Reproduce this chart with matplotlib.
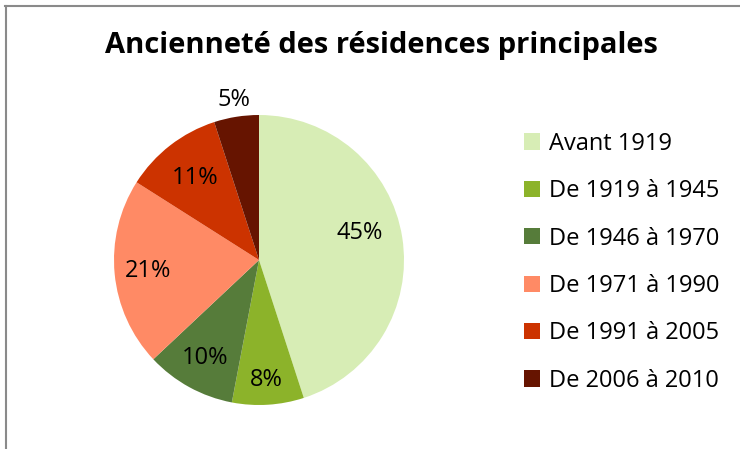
import numpy as np
import matplotlib.pyplot as plt
from matplotlib.lines import Line2D

# données
periodes = ["Avant 1919", "De 1919 à 1945", "De 1946 à 1970",
            "De 1971 à 1990", "De 1991 à 2005", "De 2006 à 2010"]
parts = [45, 8, 10, 21, 11, 5]
couleurs = ["#D7EDB5", "#8CB32A", "#567C3A", "#FF8A65", "#CC3300", "#661400"]
dist_labels = [0.72, 0.83, 0.77, 0.77, 0.72, 1.12]

plt.rcParams['font.family'] = ['Open Sans', 'DejaVu Sans']

fig = plt.figure(figsize=(7.4, 4.49), dpi=100)
W, H = 740, 449
cx, cy, r = 259, 260, 145
ax = fig.add_axes([(cx - r) / W, (H - cy - r) / H, 2 * r / W, 2 * r / H])

wedges, _ = ax.pie(parts, colors=couleurs, startangle=90, counterclock=False,
                   wedgeprops=dict(linewidth=0))
ax.set_xlim(-1, 1)
ax.set_ylim(-1, 1)

# étiquettes de pourcentage
for i, (w, p, d) in enumerate(zip(wedges, parts, dist_labels)):
    ang = np.deg2rad((w.theta1 + w.theta2) / 2)
    if i == 0:
        ang += np.deg2rad(6)  # Excel le place un peu plus haut
    ax.text(d * np.cos(ang), d * np.sin(ang), f"{p}%", ha='center', va='center',
            fontsize=17, color='black')

fig.text(381 / W, 1 - 46 / H, "Ancienneté des résidences principales",
         ha='center', va='center', fontsize=21, fontweight='bold')

fig.legend(wedges, periodes, loc='upper left', bbox_to_anchor=(512 / W, 1 - 120 / H),
           frameon=False, fontsize=17, handlelength=0.68, handleheight=0.68,
           handletextpad=0.38, labelspacing=0.99, borderpad=0)

# cadre
gris = "#8A8A8A"
fig.add_artist(Line2D([5 / W, 1], [1 - 6 / H, 1 - 6 / H], color=gris, lw=1.5,
                      transform=fig.transFigure))
fig.add_artist(Line2D([6 / W, 6 / W], [0, 1 - 6 / H], color=gris, lw=1.5,
                      transform=fig.transFigure))

fig.savefig("out.png", dpi=100)
